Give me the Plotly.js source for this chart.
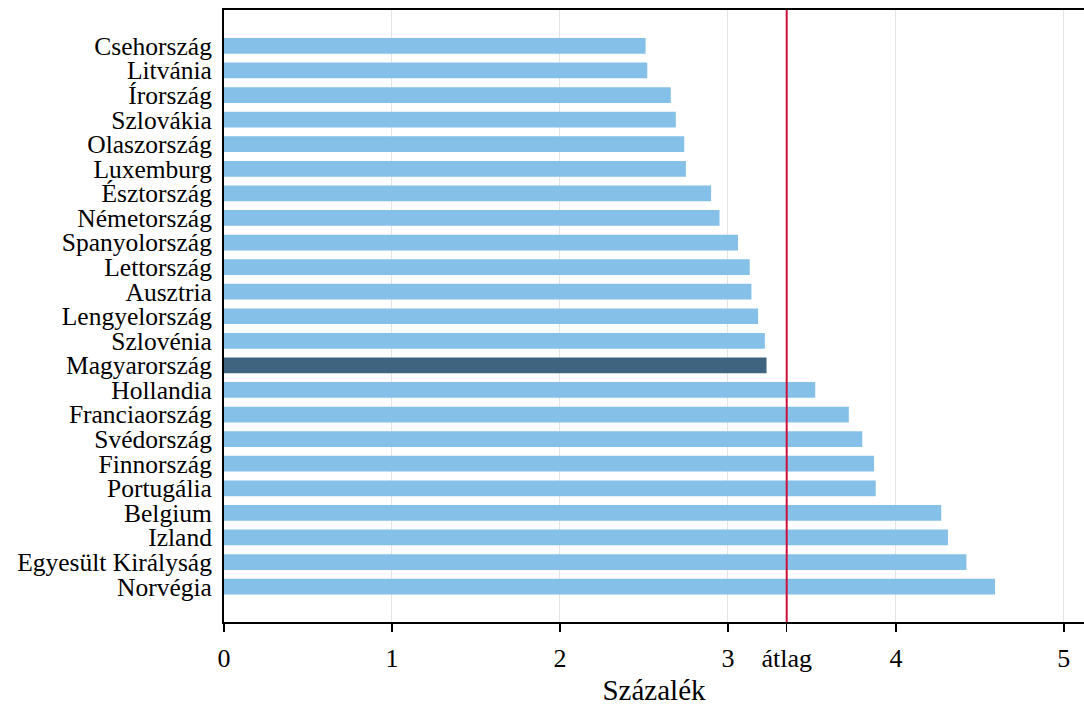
<!DOCTYPE html>
<html>
<head>
<meta charset="utf-8">
<script src="https://cdn.plot.ly/plotly-3.0.1.min.js"></script>
<style>html,body{margin:0;padding:0;background:#fff}#chart{width:1084px;height:706px}</style>
</head>
<body>
<div id="chart"></div>
<script>
const countries = ["Csehország","Litvánia","Írország","Szlovákia","Olaszország","Luxemburg","Észtország","Németország","Spanyolország","Lettország","Ausztria","Lengyelország","Szlovénia","Magyarország","Hollandia","Franciaország","Svédország","Finnország","Portugália","Belgium","Izland","Egyesült Királyság","Norvégia"];
const values = [2.51,2.52,2.66,2.69,2.74,2.75,2.90,2.95,3.06,3.13,3.14,3.18,3.22,3.23,3.52,3.72,3.80,3.87,3.88,4.27,4.31,4.42,4.59];
const average = 3.35;
const highlight = "Magyarország";
const tickVals = [0,1,2,3,average,4,5];
const tickText = ["0","1","2","3","átlag","4","5"];

const colors = countries.map(c => c === highlight ? "#3e6480" : "#85c0e9");

const trace = {
  type: "bar",
  orientation: "h",
  y: countries,
  x: values,
  marker: {color: colors, line: {width: 0}},
  width: 0.64,
  hoverinfo: "x+y"
};

const layout = {
  width: 1084, height: 706,
  margin: {l: 224, r: 0, t: 10, b: 84},
  paper_bgcolor: "#fff", plot_bgcolor: "#fff",
  font: {family: "Liberation Serif, Times New Roman, serif", color: "#000", size: 26},
  showlegend: false,
  xaxis: {
    range: [0, 5.12],
    tickmode: "array", tickvals: tickVals, ticktext: tickText,
    ticks: "outside", ticklen: 8, tickwidth: 1.5, tickcolor: "#000",
    ticklabelstandoff: 4,
    showline: true, linecolor: "#000", linewidth: 2, mirror: true,
    showgrid: true, gridcolor: "#e4e4e4", gridwidth: 1,
    zeroline: false,
    tickfont: {size: 26},
    title: {text: "Százalék", font: {size: 29}, standoff: 8}
  },
  yaxis: {
    type: "category",
    categoryorder: "array", categoryarray: countries,
    tickmode: "array", tickvals: countries, ticktext: countries,
    range: [22 + 1.44, -1.46],
    showline: true, linecolor: "#000", linewidth: 2,
    ticks: "", showgrid: false, zeroline: false,
    tickfont: {size: 25.5},
    ticklabelstandoff: 5
  },
  shapes: [{
    type: "line", xref: "x", yref: "paper",
    x0: average, x1: average, y0: 0, y1: 1,
    line: {color: "#d0103a", width: 2}
  }]
};

Plotly.newPlot("chart", [trace], layout, {displayModeBar: false, staticPlot: true});
</script>
</body>
</html>
